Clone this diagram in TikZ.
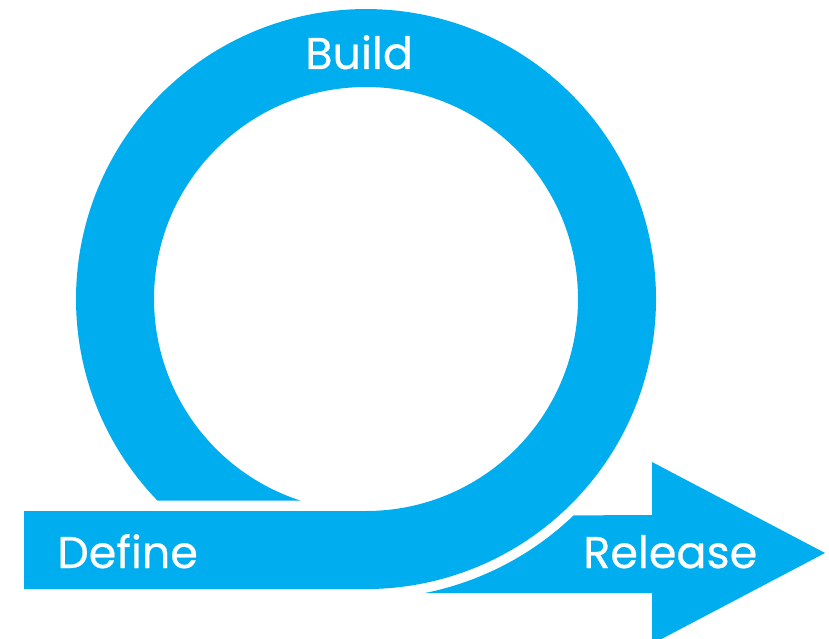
\documentclass[tikz,border=0pt]{standalone}
\usepackage{fontspec}
\newfontfamily\flowfont[FakeBold=0.5]{Poppins}
\definecolor{flow}{HTML}{00AEEF}
\tikzset{
  flowshape/.style={fill=flow,draw=none},
  flowlabel/.style={text=white,font=\flowfont\fontsize{25.3}{26}\selectfont,inner sep=0pt,anchor=base west}
}
\begin{document}
\begin{tikzpicture}[x=0.02cm,y=-0.02cm]
\useasboundingbox (0,0) rectangle (829,639);
\fill[white] (0,0) rectangle (829,639);
\begin{scope}
\clip (0,0) rectangle (829,639);
\fill[flowshape] (425,593) arc[start angle=78.65,end angle=46.2,radius=300]
  -- (652,515) -- (652,462) -- (825,553) -- (652,644) -- (652,593) -- cycle;
\end{scope}
\fill[flowshape] (24,511) -- (366,511)
  arc[start angle=90,end angle=-251.9,radius=212]
  -- (157.4,500.5)
  arc[start angle=-224,end angle=90,radius=290]
  -- (24,589) -- cycle;
\node[flowlabel] (build) at (305,69) {Build};
\node[flowlabel] (define) at (57,568) {Define};
\node[flowlabel] (release) at (583,568) {Release};
\end{tikzpicture}
\end{document}
